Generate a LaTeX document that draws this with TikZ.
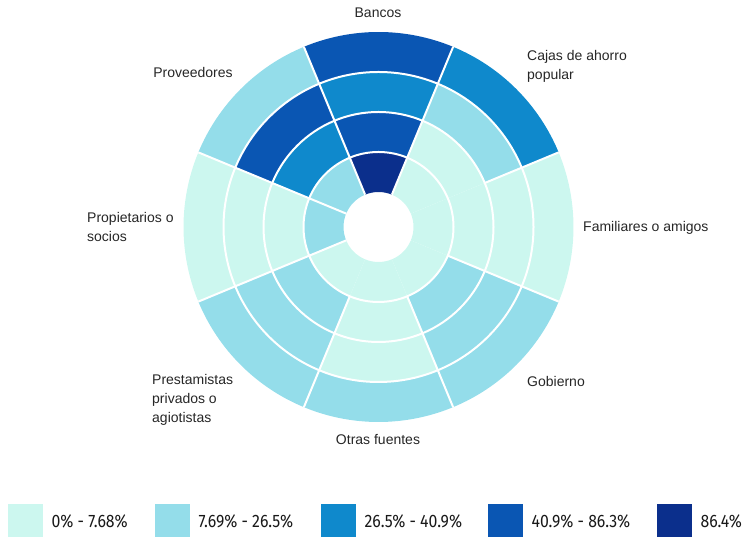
\documentclass[tikz,border=0pt]{standalone}
\usepackage{fontspec}
\setmainfont{Liberation Sans}
\newfontfamily\keyfont[FakeStretch=0.88]{Fira Sans}
\usepackage{tikz}
\usetikzlibrary{positioning}

\definecolor{tintA}{HTML}{CCF7EF}
\definecolor{tintB}{HTML}{94DDEA}
\definecolor{tintC}{HTML}{0F89CC}
\definecolor{tintD}{HTML}{0A56B3}
\definecolor{tintE}{HTML}{0B2F8C}

% one cell of the ring chart: sector centre angle, inner radius, colour
\newcommand{\ringcell}[3]{%
  \fill[fill=#3] ([shift={(#1-22.5:#2)}]c) arc[start angle=#1-22.5, end angle=#1+22.5, radius=#2]
    -- ([shift={(#1+22.5:#2+40)}]c) arc[start angle=#1+22.5, end angle=#1-22.5, radius=#2+40] -- cycle;}

\begin{document}
\begin{tikzpicture}[x=1pt,y=1pt,
    lbl/.style={font=\fontsize{14}{19}\selectfont, text=black!85, align=left, inner sep=0pt},
    sep/.style={white, line width=2pt},
    swatch/.style={minimum width=35pt, minimum height=35pt, inner sep=0pt},
    key/.style={font=\keyfont\fontsize{18}{20}\selectfont, text=black!90, inner sep=0pt}]
    \useasboundingbox (0,0) rectangle (744,537);
    \coordinate (c) at (378.5,310);

    % sectors, rings from inside to outside
    \foreach \a/\ca/\cb/\cc/\cd in {90/tintE/tintD/tintC/tintD, 45/tintA/tintA/tintB/tintC,
        0/tintA/tintA/tintA/tintA, -45/tintA/tintB/tintB/tintB, -90/tintA/tintA/tintA/tintB,
        -135/tintA/tintB/tintB/tintB, 180/tintB/tintA/tintA/tintA, 135/tintB/tintC/tintD/tintB}{
        \ringcell{\a}{35}{\ca}
        \ringcell{\a}{75}{\cb}
        \ringcell{\a}{115}{\cc}
        \ringcell{\a}{155}{\cd}
    }
    \foreach \r in {75,115,155}
        \draw[sep] (c) circle[radius=\r];
    \foreach \a/\ri in {67.5/35, 112.5/35, 22.5/115, -22.5/75, -67.5/75, -112.5/75, 202.5/35, 157.5/35}
        \draw[sep] ([shift={(\a:\ri)}]c) -- ([shift={(\a:195)}]c);

    \node[lbl] (bancos) at (378,524) {Bancos};
    \node[lbl,anchor=west] (cajas) at (527,470.5) {Cajas de ahorro\\popular};
    \node[lbl] (prov) at (193,464) {Proveedores};
    \node[lbl,anchor=west] (prop) at (87,310) {Propietarios o\\socios};
    \node[lbl,anchor=west] (fam) at (583,309) {Familiares o amigos};
    \node[lbl,anchor=west] (gob) at (527,155) {Gobierno};
    \node[lbl,anchor=west] (prest) at (152,137) {Prestamistas\\privados o\\agiotistas};
    \node[lbl] (otras) at (378,97) {Otras fuentes};

    % legend
    \node[swatch,fill=tintA,anchor=west] (swA) at (8,15.5) {};
    \node[key,right=8pt of swA] (keyA) {0\% - 7.68\%};
    \node[swatch,fill=tintB,anchor=west] (swB) at (155,15.5) {};
    \node[key,right=8pt of swB] (keyB) {7.69\% - 26.5\%};
    \node[swatch,fill=tintC,anchor=west] (swC) at (321,15.5) {};
    \node[key,right=8pt of swC] (keyC) {26.5\% - 40.9\%};
    \node[swatch,fill=tintD,anchor=west] (swD) at (488,15.5) {};
    \node[key,right=8pt of swD] (keyD) {40.9\% - 86.3\%};
    \node[swatch,fill=tintE,anchor=west] (swE) at (657,15.5) {};
    \node[key,right=8pt of swE] (keyE) {86.4\%};
\end{tikzpicture}
\end{document}
